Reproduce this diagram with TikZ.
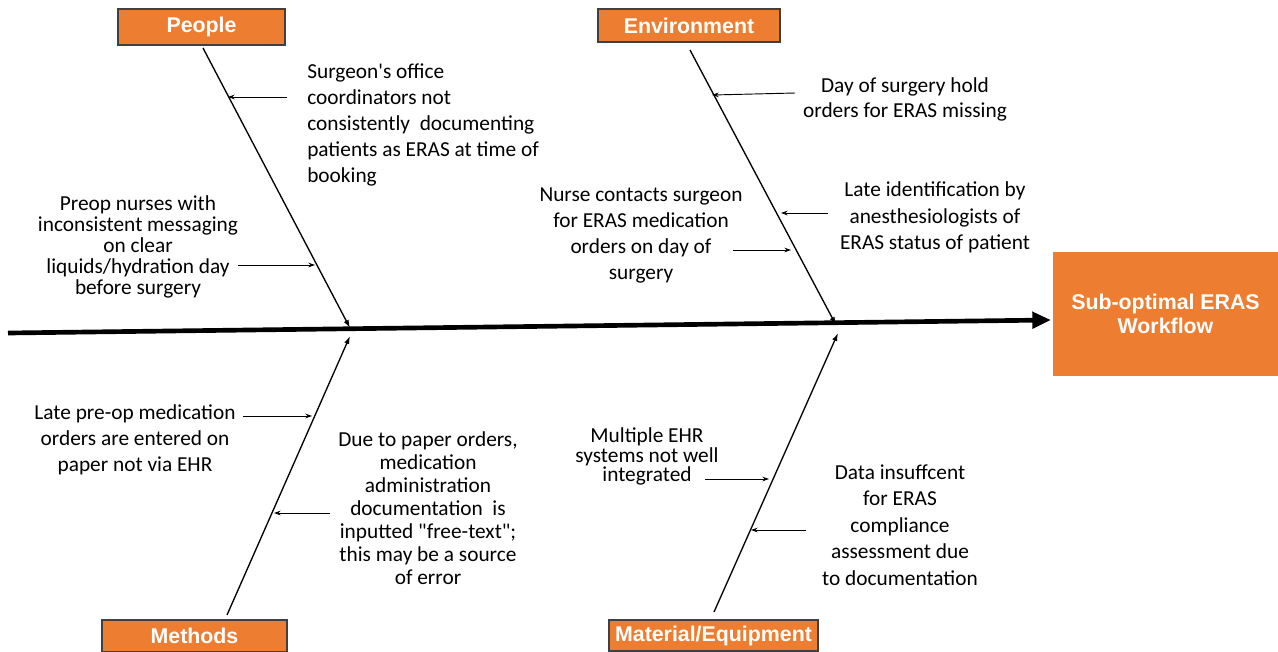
\documentclass[tikz,border=0pt]{standalone}
\usepackage{fontspec}
\setmainfont{Carlito}[Ligatures=TeXOff]
\newfontfamily\hdrfont{Liberation Sans}
\usetikzlibrary{arrows.meta}
\definecolor{erasorange}{HTML}{ED7D31}
\definecolor{boxline}{HTML}{404040}
\begin{document}
\begin{tikzpicture}[x=0.75pt,y=-0.75pt,
  header/.style={draw=boxline,line width=0.8pt,fill=erasorange,text=white,
    font=\hdrfont\bfseries\fontsize{16}{18}\selectfont,inner sep=0pt},
  cause/.style={font=\fontsize{16}{19.5}\selectfont,inner sep=0pt,align=center},
  bone/.style={line width=1pt,-{Latex[length=6pt,width=4pt]}},
  sub/.style={line width=0.7pt,-{Stealth[length=5pt,width=3.5pt]}}]
\useasboundingbox (0,0) rectangle (1278,651);
\clip (0,0) rectangle (1278,651);

% outcome box
\node[fill=erasorange,text=white,minimum width=225*0.75pt,minimum height=124*0.75pt,
  font=\hdrfont\bfseries\fontsize{16}{18}\selectfont,align=center,inner sep=0pt]
  (outcome) at (1165.5,314) {Sub-optimal ERAS\\Workflow};

% category headers
\node[header,minimum width=167*0.75pt,minimum height=36*0.75pt] (people) at (201.5,27) {People};
\node[header,minimum width=182*0.75pt,minimum height=33*0.75pt] (env) at (689,25.5) {Environment};
\node[header,minimum width=185*0.75pt,minimum height=32*0.75pt] (methods) at (194.5,636) {Methods};
\node[header,minimum width=209*0.75pt,minimum height=31*0.75pt] (material) at (713.5,635.5) {Material/Equipment};

% spine
\coordinate (spinestart) at (8,333);
\coordinate (spineend) at (1051,320);
\draw[line width=3.5pt,-{Triangle[length=14pt,width=12pt]}] (spinestart) -- (spineend);

% bones
\coordinate (pb) at (203,48);   \coordinate (pj) at (350,328);
\coordinate (eb) at (690,50);   \coordinate (ej) at (836,325);
\coordinate (mb) at (227,615);  \coordinate (mj) at (350,336);
\coordinate (qb) at (714,612);  \coordinate (qj) at (838,333);
\draw[bone] (pb) -- (pj);
\draw[bone] (eb) -- (ej);
\draw[bone] (mb) -- (mj);
\draw[bone] (qb) -- (qj);

% causes
\node[cause,align=left,anchor=west] (c1) at (307,124.5)
  {Surgeon's office\\coordinators not\\consistently\ \ documenting\\patients as ERAS at time of\\booking};
\node[cause,font=\fontsize{16}{15.75}\selectfont] (c2) at (138,247)
  {Preop nurses with\\inconsistent messaging\\on clear\\liquids/hydration day\\before surgery};
\node[cause,font=\fontsize{16}{18.75}\selectfont] (c3) at (905,99.5)
  {Day of surgery hold\\orders for ERAS missing};
\node[cause,font=\fontsize{16}{19.75}\selectfont] (c4) at (935,217.5)
  {Late identification by\\anesthesiologists of\\ERAS status of patient};
\node[cause] (c5) at (641,235)
  {Nurse contacts surgeon\\for ERAS medication\\orders on day of\\surgery};
\node[cause] (c6) at (135,440)
  {Late pre-op medication\\orders are entered on\\paper not via EHR};
\node[cause,font=\fontsize{16}{17.25}\selectfont] (c7) at (428,508)
  {Due to paper orders,\\medication\\administration\\documentation\ \ is\\inputted "free-text";\\this may be a source\\of error};
\node[cause,font=\fontsize{16}{14.6}\selectfont] (c8) at (647,456.5)
  {Multiple EHR\\systems not well\\integrated};
\node[cause,font=\fontsize{16}{19.9}\selectfont] (c9) at (900,525)
  {Data insuffcent\\for ERAS\\compliance\\assessment due\\to documentation};

% sub-cause arrows
\coordinate (s1a) at (287,97);  \coordinate (s1b) at (228,97);
\coordinate (s2a) at (238,265); \coordinate (s2b) at (315,265);
\coordinate (s3a) at (795,93);  \coordinate (s3b) at (712,95);
\coordinate (s4a) at (828,213); \coordinate (s4b) at (781,213);
\coordinate (s5a) at (733,250); \coordinate (s5b) at (791,250);
\coordinate (s6a) at (243,416); \coordinate (s6b) at (312,416);
\coordinate (s7a) at (330,513); \coordinate (s7b) at (274,513);
\coordinate (s8a) at (705,479); \coordinate (s8b) at (769,479);
\coordinate (s9a) at (806,530); \coordinate (s9b) at (751,530);
\foreach \i in {1,...,9} {\draw[sub] (s\i a) -- (s\i b);}
\end{tikzpicture}
\end{document}
